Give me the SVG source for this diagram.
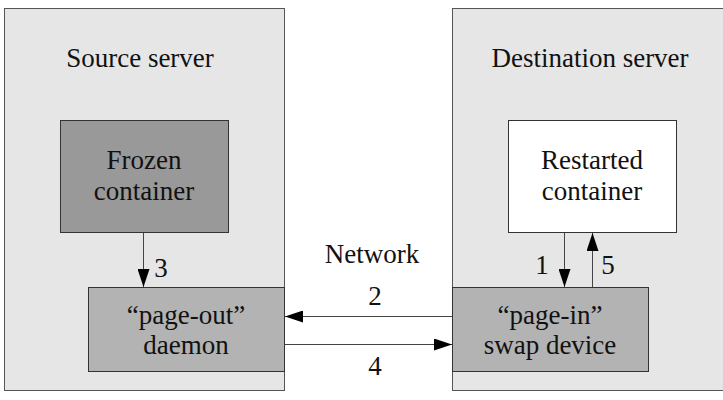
<svg xmlns="http://www.w3.org/2000/svg" width="723" height="400" viewBox="0 0 723 400">
<style>
.srv{fill:#e6e6e6;stroke:#555;stroke-width:1}
.box{stroke:#333;stroke-width:1}
.ln{stroke:#444;stroke-width:1;fill:none}
</style>
<defs>
<marker id="ah" markerWidth="18" markerHeight="12" refX="18" refY="6" orient="auto" markerUnits="userSpaceOnUse">
<path d="M0,0 L18,6 L0,12 Z" fill="#000"/>
</marker>
</defs>
<g font-family="Liberation Serif" font-size="27" fill="#111" text-anchor="middle">
<g id="source-server">
<rect class="srv" x="4.5" y="8.5" width="280" height="382"/>
<g><text x="140" y="67"><tspan font-family="Liberation Serif">Source server</tspan></text></g>
</g>
<g id="destination-server">
<rect class="srv" x="452.5" y="8.5" width="280" height="382"/>
<g><text x="590" y="67"><tspan font-family="Liberation Serif">Destination server</tspan></text></g>
</g>
<g id="frozen-container">
<rect class="box" x="60.5" y="120.5" width="168" height="112" fill="#999999"/>
<g><text x="144" y="169"><tspan font-family="Liberation Serif">Frozen</tspan></text>
<text x="144" y="200"><tspan font-family="Liberation Serif">container</tspan></text></g>
</g>
<g id="page-out-daemon">
<rect class="box" x="88.5" y="287.5" width="196" height="84" fill="#b3b3b3"/>
<g><text x="186" y="324"><tspan font-family="Liberation Serif">“page-out”</tspan></text>
<text x="186" y="354"><tspan font-family="Liberation Serif">daemon</tspan></text></g>
</g>
<g id="restarted-container">
<rect class="box" x="508.5" y="120.5" width="168" height="112" fill="#ffffff"/>
<g><text x="592" y="169"><tspan font-family="Liberation Serif">Restarted</tspan></text>
<text x="592" y="200"><tspan font-family="Liberation Serif">container</tspan></text></g>
</g>
<g id="page-in-swap-device">
<rect class="box" x="452.5" y="287.5" width="196" height="84" fill="#b3b3b3"/>
<g><text x="550" y="324"><tspan font-family="Liberation Serif">“page-in”</tspan></text>
<text x="550" y="354"><tspan font-family="Liberation Serif">swap device</tspan></text></g>
</g>
<text x="372" y="263">Network</text>
<g id="connectors">
<line class="ln" x1="143.5" y1="233" x2="143.5" y2="287" marker-end="url(#ah)"/>
<line class="ln" x1="564.5" y1="233" x2="564.5" y2="287" marker-end="url(#ah)"/>
<line class="ln" x1="592.5" y1="287" x2="592.5" y2="233" marker-end="url(#ah)"/>
<line class="ln" x1="452" y1="316.5" x2="285" y2="316.5" marker-end="url(#ah)"/>
<line class="ln" x1="285" y1="344.5" x2="452" y2="344.5" marker-end="url(#ah)"/>
<g><text x="161" y="277"><tspan font-family="Liberation Serif">3</tspan></text>
<text x="542" y="274"><tspan font-family="Liberation Serif">1</tspan></text>
<text x="608" y="274"><tspan font-family="Liberation Serif">5</tspan></text>
<text x="375" y="305"><tspan font-family="Liberation Serif">2</tspan></text>
<text x="375" y="375"><tspan font-family="Liberation Serif">4</tspan></text></g>
</g>
</g>
</svg>
